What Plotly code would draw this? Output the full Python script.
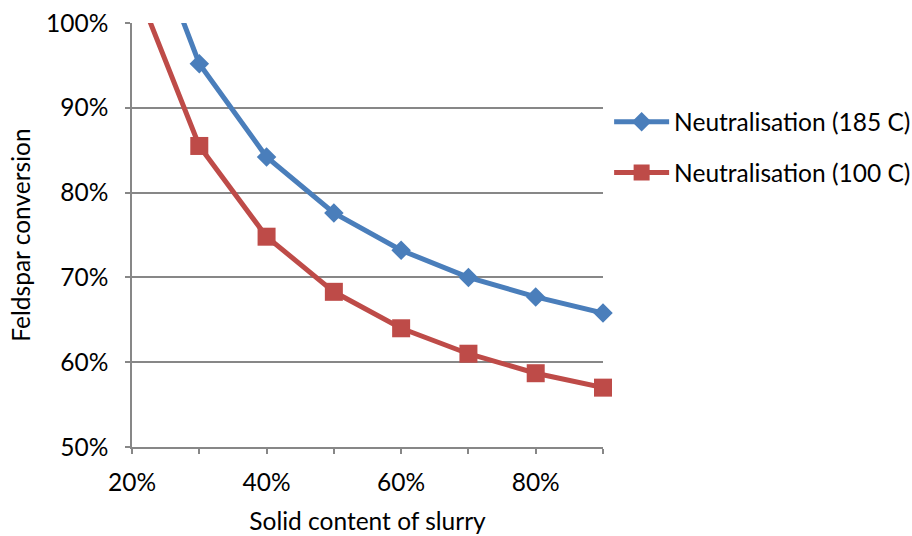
import plotly.graph_objects as go

# Solid content of slurry (fraction) and feldspar conversion (fraction)
solid_content = [0.20, 0.30, 0.40, 0.50, 0.60, 0.70, 0.80, 0.90]
conv_185 = [1.16, 0.952, 0.842, 0.776, 0.732, 0.700, 0.677, 0.658]
conv_100 = [1.055, 0.855, 0.748, 0.683, 0.640, 0.610, 0.587, 0.570]

series_names = ["Neutralisation (185 C)", "Neutralisation (100 C)"]
x_tick_vals = [0.2, 0.4, 0.6, 0.8]
x_tick_text = ["20%", "40%", "60%", "80%"]

BLUE = "#4A7EBB"
RED = "#BE4B48"
GRID = "#878787"
FONT = "Lato"
FS = 24.5

fig = go.Figure()
# markers are left unclipped so the end points at 90% show in full;
# the lines are still clipped to the plotting area
fig.add_trace(go.Scatter(
    x=solid_content, y=conv_185, name=series_names[0], mode="lines+markers",
    legendgroup="a", cliponaxis=False,
    line=dict(color=BLUE, width=5),
    marker=dict(symbol="diamond", size=15, color=BLUE, opacity=1),
))
fig.add_trace(go.Scatter(
    x=solid_content, y=conv_100, name=series_names[1], mode="lines+markers",
    legendgroup="b", cliponaxis=False,
    line=dict(color=RED, width=5),
    marker=dict(symbol="square", size=18, color=RED, opacity=1),
))

fig.update_layout(
    width=912, height=536,
    margin=dict(l=132, r=309, t=23, b=89, autoexpand=False),
    paper_bgcolor="white", plot_bgcolor="white",
    font=dict(family=FONT, size=FS, color="#000000"),
    showlegend=True,
    legend=dict(
        x=1.013, y=0.82, xanchor="left", yanchor="top",
        traceorder="grouped", tracegroupgap=16,
        itemwidth=55,
        font=dict(family=FONT, size=FS, color="#000000"),
        bgcolor="rgba(0,0,0,0)",
    ),
    xaxis=dict(
        range=[0.2, 0.9], automargin=False,
        tickvals=x_tick_vals, ticktext=x_tick_text,
        ticks="outside", ticklen=5, tickcolor=GRID, tickwidth=1.5,
        ticklabelstandoff=8,
        minor=dict(ticks="outside", dtick=0.1, tick0=0.2, ticklen=5,
                   tickcolor=GRID, tickwidth=1.5, showgrid=False),
        showline=True, linecolor=GRID, linewidth=1.5,
        showgrid=False, zeroline=False,
        title=dict(text="Solid content of slurry", standoff=18,
                   font=dict(family=FONT, size=FS)),
        tickfont=dict(family=FONT, size=FS),
    ),
    yaxis=dict(
        range=[0.5, 1.0], dtick=0.1, tick0=0.5, tickformat=".0%",
        automargin=False,
        ticks="outside", ticklen=5, tickcolor=GRID, tickwidth=1.5,
        ticklabelstandoff=12,
        showline=True, linecolor=GRID, linewidth=1.5,
        showgrid=True, gridcolor=GRID, gridwidth=1.5,
        zeroline=False,
        title=dict(text="Feldspar conversion", standoff=8,
                   font=dict(family=FONT, size=FS)),
        tickfont=dict(family=FONT, size=FS),
    ),
)

fig.write_html("out.html")
